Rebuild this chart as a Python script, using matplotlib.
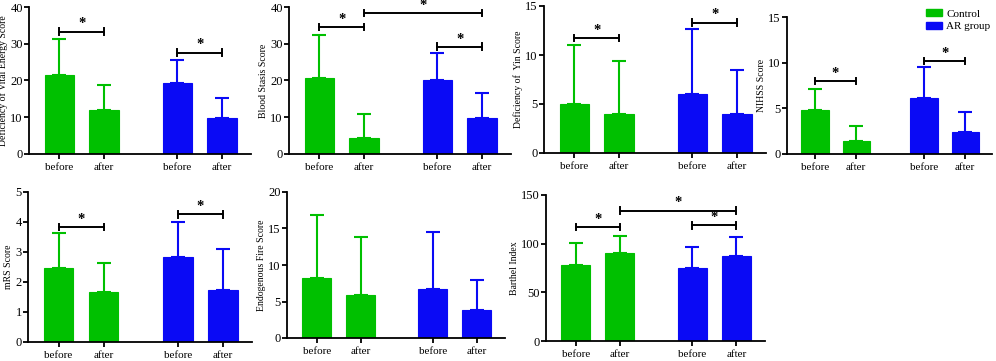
import matplotlib
matplotlib.use("Agg")
import matplotlib.pyplot as plt
from matplotlib.patches import Patch

plt.rcParams['font.family'] = ['Liberation Serif', 'DejaVu Serif']

GREEN = '#00C000'
BLUE = '#0A0AF5'

categories = ['before', 'after', 'before', 'after']
groups = ['Control', 'AR group']

# per panel: means [ctrl before, ctrl after, AR before, AR after], upper error-bar lengths (SD)
titles = ['Deficiency of Vital Energy Score', 'Blood Stasis Score', 'Deficiency of  Yin Score',
          'NIHSS Score', 'mRS Score', 'Endogenous Fire Score', 'Barthel Index']

vital_mean = [21.6, 12.0, 19.2, 9.7]
vital_sd = [9.7, 6.9, 6.4, 5.5]
stasis_mean = [20.8, 4.4, 20.1, 9.9]
stasis_sd = [11.7, 6.5, 7.4, 6.8]
yin_mean = [5.0, 4.03, 6.03, 4.0]
yin_sd = [6.0, 5.4, 6.6, 4.5]
nihss_mean = [4.87, 1.45, 6.1, 2.4]
nihss_sd = [2.2, 1.64, 3.45, 2.18]
mrs_mean = [2.46, 1.66, 2.84, 1.74]
mrs_sd = [1.16, 0.99, 1.16, 1.36]
fire_mean = [8.22, 5.94, 6.67, 3.88]
fire_sd = [8.6, 7.9, 7.8, 4.06]
barthel_mean = [77.9, 89.9, 74.5, 87.2]
barthel_sd = [23.0, 18.2, 22.0, 19.6]

means = [vital_mean, stasis_mean, yin_mean, nihss_mean, mrs_mean, fire_mean, barthel_mean]
sds = [vital_sd, stasis_sd, yin_sd, nihss_sd, mrs_sd, fire_sd, barthel_sd]
ymax = [40, 40, 15, 15, 5, 20, 150]
ystep = [10, 10, 5, 5, 1, 5, 50]

# significance brackets: (from index, to index, y level)
sig = [
    [(0, 1, 33.3), (2, 3, 27.6)],
    [(0, 1, 34.6), (1, 3, 38.4), (2, 3, 29.2)],
    [(0, 1, 11.75), (2, 3, 13.3)],
    [(0, 1, 7.95), (2, 3, 10.2)],
    [(0, 1, 3.84), (2, 3, 4.26)],
    [],
    [(0, 1, 117), (1, 3, 134), (2, 3, 118.8)],
]

# axes boxes in pixels: left, right, top, bottom
W, H = 996, 361
boxes = [
    (29, 251, 7, 154),
    (289, 511, 7, 154),
    (544, 766, 6, 153),
    (787, 992, 17, 154),
    (28, 252, 192, 342),
    (287, 505, 192, 338),
    (546, 765, 195, 341),
]

xpos = [0, 1, 2.65, 3.65]
colors = [GREEN, GREEN, BLUE, BLUE]

fig = plt.figure(figsize=(W / 100, H / 100), dpi=100)

for i in range(7):
    l, r, t, b = boxes[i]
    ax = fig.add_axes([l / W, 1 - b / H, (r - l) / W, (b - t) / H])
    m = means[i]
    s = sds[i]
    ax.bar(xpos, m, width=0.66, color=colors, edgecolor=colors, linewidth=0.8, zorder=2)
    for x, mv, sv, c in zip(xpos, m, s, colors):
        ax.errorbar([x], [mv], yerr=[[0], [sv]], fmt='none', ecolor=c,
                    elinewidth=1.5, capsize=5.2, capthick=1.5, zorder=1)
    ym = ymax[i]
    ax.set_ylim(0, ym)
    ax.set_xlim(-0.68, 4.3)
    ax.set_yticks(list(range(0, ym + 1, ystep[i])))
    ax.set_xticks(xpos)
    ax.set_xticklabels(categories)
    ax.spines['top'].set_visible(False)
    ax.spines['right'].set_visible(False)
    for sp in ['left', 'bottom']:
        ax.spines[sp].set_linewidth(1.3)
    ax.tick_params(axis='y', width=1.3, length=3.5, labelsize=9, pad=1)
    ax.tick_params(axis='x', width=1.3, length=3.5, labelsize=8, pad=3)
    ax.set_ylabel(titles[i], fontsize=7, labelpad=1.5)
    tick = ym * 0.022
    for (a, bidx, yv) in sig[i]:
        x1, x2 = xpos[a], xpos[bidx]
        ax.plot([x1, x2], [yv, yv], color='black', lw=1.4, clip_on=False, zorder=3)
        ax.plot([x1, x1], [yv - tick, yv + tick], color='black', lw=1.4, clip_on=False, zorder=3)
        ax.plot([x2, x2], [yv - tick, yv + tick], color='black', lw=1.4, clip_on=False, zorder=3)
        ax.text((x1 + x2) / 2, yv + ym * 0.008, '*', ha='center', va='bottom', fontsize=10.5,
                fontweight='bold', clip_on=False)
    if i == 3:
        handles = [Patch(facecolor=GREEN, edgecolor=GREEN), Patch(facecolor=BLUE, edgecolor=BLUE)]
        fig.legend(handles, groups, loc='upper left', bbox_to_anchor=(922 / W, 1 - 5 / H),
                   frameon=False, fontsize=8, handlelength=1.4, handleheight=0.6,
                   handletextpad=0.4, labelspacing=0.25, borderaxespad=0)

fig.savefig('out.png', dpi=100)
